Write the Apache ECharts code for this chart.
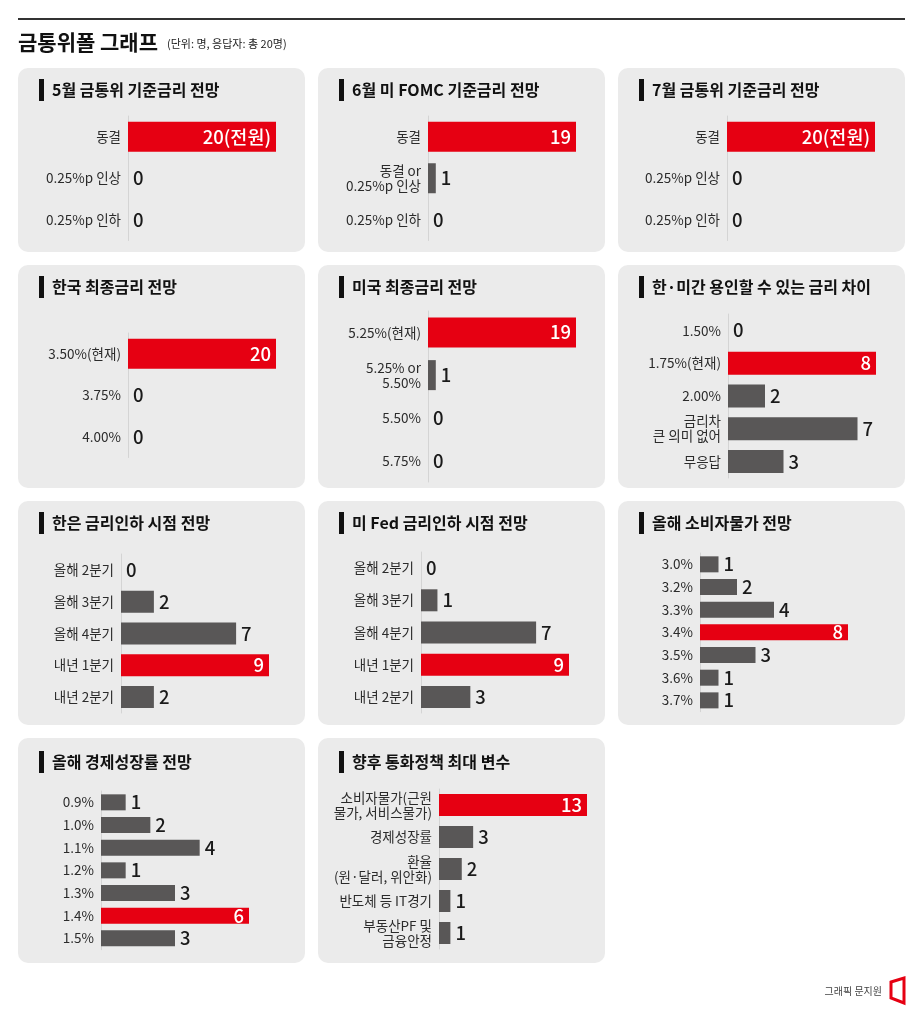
<!DOCTYPE html>
<html><head><meta charset="utf-8">
<script src="https://cdn.jsdelivr.net/npm/echarts@6/dist/echarts.min.js"></script>
<style>html,body{margin:0;padding:0;background:#fff}#c{width:923px;height:1024px}</style>
</head><body><div id="c"></div>
<script>
// ---------- DATA ----------
const mainTitle = '금통위폴 그래프';
const subTitle = '(단위: 명, 응답자: 총 20명)';
const credit = '그래픽 문지원';

const panelTitles = [
  '5월 금통위 기준금리 전망', '6월 미 FOMC 기준금리 전망', '7월 금통위 기준금리 전망',
  '한국 최종금리 전망', '미국 최종금리 전망', '한·미간 용인할 수 있는 금리 차이',
  '한은 금리인하 시점 전망', '미 Fed 금리인하 시점 전망', '올해 소비자물가 전망',
  '올해 경제성장률 전망', '향후 통화정책 최대 변수'
];

const cats1 = ['동결', '0.25%p 인상', '0.25%p 인하'];
const vals1 = [20, 0, 0];
const cats2 = ['동결', '동결 or\n0.25%p 인상', '0.25%p 인하'];
const vals2 = [19, 1, 0];
const cats3 = ['동결', '0.25%p 인상', '0.25%p 인하'];
const vals3 = [20, 0, 0];
const cats4 = ['3.50%(현재)', '3.75%', '4.00%'];
const vals4 = [20, 0, 0];
const cats5 = ['5.25%(현재)', '5.25% or\n5.50%', '5.50%', '5.75%'];
const vals5 = [19, 1, 0, 0];
const cats6 = ['1.50%', '1.75%(현재)', '2.00%', '금리차\n큰 의미 없어', '무응답'];
const vals6 = [0, 8, 2, 7, 3];
const cats7 = ['올해 2분기', '올해 3분기', '올해 4분기', '내년 1분기', '내년 2분기'];
const vals7 = [0, 2, 7, 9, 2];
const cats8 = ['올해 2분기', '올해 3분기', '올해 4분기', '내년 1분기', '내년 2분기'];
const vals8 = [0, 1, 7, 9, 3];
const cats9 = ['3.0%', '3.2%', '3.3%', '3.4%', '3.5%', '3.6%', '3.7%'];
const vals9 = [1, 2, 4, 8, 3, 1, 1];
const cats10 = ['0.9%', '1.0%', '1.1%', '1.2%', '1.3%', '1.4%', '1.5%'];
const vals10 = [1, 2, 4, 1, 3, 6, 3];
const cats11 = ['소비자물가(근원\n물가, 서비스물가)', '경제성장률', '환율\n(원·달러, 위안화)', '반도체 등 IT경기', '부동산PF 및\n금융안정'];
const vals11 = [13, 3, 2, 1, 1];

const allCats = [cats1, cats2, cats3, cats4, cats5, cats6, cats7, cats8, cats9, cats10, cats11];
const allVals = [vals1, vals2, vals3, vals4, vals5, vals6, vals7, vals8, vals9, vals10, vals11];
const highlightIdx = [0, 0, 0, 0, 0, 1, 3, 3, 3, 5, 0];
const highlightNote = ['(전원)', '', '(전원)', '', '', '', '', '', '', '', ''];

// ---------- LAYOUT / STYLE ----------
const RED = '#e60012', GREY = '#595757', BG = '#ebebeb';
const FONT = '"Noto Sans CJK KR","Noto Sans",sans-serif';
const colX = [18, 318, 618];
const panelW = 287;
const rowBox = [[68, 252], [265, 488], [501, 725], [738, 963]];
const titleY = [90, 287, 523, 762];
// grid per panel: left, top, height, barWidth
const gridLayout = [
  [128, 116, 124.5, 30], [428, 116, 124.5, 30], [727, 116, 124.5, 30],
  [128, 333, 124.5, 30], [428, 311, 171, 30], [728, 314, 164, 23],
  [121, 554, 159, 22], [421, 552, 161, 22], [700, 553, 158.7, 16],
  [101, 791, 158.7, 16], [439, 789, 160, 22]
];

const graphic = [
  {type:'line', shape:{x1:18, y1:19, x2:905, y2:19}, style:{stroke:'#333', lineWidth:2}},
  {type:'text', x:18, y:42, style:{text:mainTitle, font:'bold 21px '+FONT, fill:'#111', textVerticalAlign:'middle'}},
  {type:'text', x:167, y:44, style:{text:subTitle, font:'11px '+FONT, fill:'#222', textVerticalAlign:'middle'}},
  {type:'text', x:882, y:991, style:{text:credit, font:'10px '+FONT, fill:'#444', textAlign:'right', textVerticalAlign:'middle'}},
  {type:'polygon', shape:{points:[[891,982],[904,978],[904,1003],[891,998]]}, style:{fill:'none', stroke:RED, lineWidth:3}}
];

const grids = [], xAxes = [], yAxes = [], series = [];
panelTitles.forEach((t, i) => {
  const col = i % 3, row = Math.floor(i / 3);
  const px = colX[col], py = rowBox[row][0], ph = rowBox[row][1] - rowBox[row][0];
  graphic.push({type:'rect', z:-10, shape:{x:px, y:py, width:panelW, height:ph, r:10}, style:{fill:BG}});
  graphic.push({type:'rect', shape:{x:px+21, y:titleY[row]-11, width:5, height:22}, style:{fill:'#111'}});
  graphic.push({type:'text', x:px+34, y:titleY[row], style:{text:t, font:'bold 16px '+FONT, fill:'#111', textVerticalAlign:'middle'}});

  const [gl, gt, gh, bw] = gridLayout[i];
  const vals = allVals[i];
  const maxV = Math.max(...vals);
  grids.push({left:gl, top:gt, width:148, height:gh, containLabel:false});
  xAxes.push({type:'value', gridIndex:i, min:0, max:maxV, show:false});
  yAxes.push({
    type:'category', gridIndex:i, data:allCats[i], inverse:true,
    axisTick:{show:false},
    axisLine:{show:true, lineStyle:{color:'#d4d4d4', width:1}},
    axisLabel:{color:'#2b2b2b', fontSize:13.5, fontFamily:FONT, margin:7, lineHeight:15}
  });
  series.push({
    type:'bar', xAxisIndex:i, yAxisIndex:i, barWidth:bw,
    data: vals.map((v, k) => {
      const hi = k === highlightIdx[i];
      return {
        value: v,
        itemStyle:{color: hi ? RED : GREY},
        label:{
          show:true,
          position: hi ? 'insideRight' : 'right',
          distance: 5,
          color: hi ? '#fff' : '#1a1a1a',
          fontSize:18.5, fontWeight:500, fontFamily:FONT,
          formatter: hi ? (v + highlightNote[i]) : String(v)
        }
      };
    })
  });
});

const chart = echarts.init(document.getElementById('c'));
chart.setOption({
  animation:false,
  backgroundColor:'#fff',
  grid:grids, xAxis:xAxes, yAxis:yAxes, series:series,
  graphic:graphic
});
</script></body></html>
